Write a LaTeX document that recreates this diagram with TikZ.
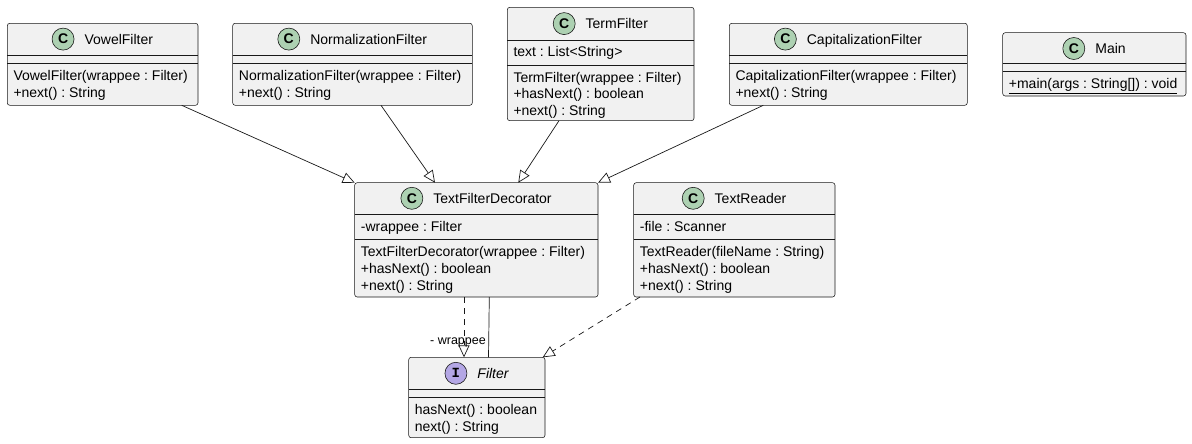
\documentclass[tikz,border=0pt]{standalone}
\usepackage{fontspec}
\setmainfont{Liberation Sans}
\newfontfamily\monofam{Liberation Mono}
\usetikzlibrary{arrows.meta,calc}
\definecolor{boxfill}{HTML}{F1F1F1}
\definecolor{boxline}{HTML}{181818}
\definecolor{cgreen}{HTML}{ADD1B2}
\definecolor{ipurple}{HTML}{B4A7E5}
\tikzset{
  x=1pt, y=-1pt,
  classbox/.style={draw=boxline, fill=boxfill, rounded corners=2.5pt, line width=0.55pt, anchor=north west, inner sep=0pt, outer sep=0pt},
  sepline/.style={draw=boxline, line width=0.55pt},
  mem/.style={anchor=base west, inner sep=0pt, font=\fontsize{14}{16}\selectfont, text=black},
  cname/.style={anchor=base, inner sep=0pt, font=\fontsize{14}{16}\selectfont, text=black},
  cicon/.style={circle, draw=boxline, fill=cgreen, minimum size=22pt, inner sep=0pt, line width=0.6pt, font=\fontsize{14}{14}\selectfont\bfseries},
  iicon/.style={cicon, fill=ipurple, font=\fontsize{14}{14}\selectfont\monofam\bfseries},
  ext/.style={draw=boxline, line width=0.7pt, -{Triangle[open, length=12pt, width=11pt]}},
  impl/.style={ext, dash pattern=on 6pt off 5pt},
  assoc/.style={draw=boxline, line width=0.7pt},
  lbl/.style={inner sep=0pt, font=\fontsize{12.5}{14}\selectfont, text=black}
}
\begin{document}
\frenchspacing
\begin{tikzpicture}
\useasboundingbox (0,0) rectangle (1192,444);

% VowelFilter
\node[classbox, minimum width=190.7pt, minimum height=82pt] (vf) at (7.3,23.3) {};
\draw[sepline] (7.3,55) -- (198,55);
\draw[sepline] (7.3,63.3) -- (198,63.3);
\node[cname] (vfn) at ($(vf.north)+(16.15,20.8)$) {VowelFilter};
\node[cicon] (vfc) at ($(vfn.base west)+(-21.3,-5)$) {C};
\node[mem] (vf1) at (13.3,81) {VowelFilter(wrappee : Filter)};
\node[mem] (vf2) at (13.3,97.7) {+next() : String};

% NormalizationFilter
\node[classbox, minimum width=239.6pt, minimum height=82pt] (nf) at (232.7,23.3) {};
\draw[sepline] (232.7,55) -- (472.3,55);
\draw[sepline] (232.7,63.3) -- (472.3,63.3);
\node[cname] (nfn) at ($(nf.north)+(16.15,20.8)$) {NormalizationFilter};
\node[cicon] (nfc) at ($(nfn.base west)+(-21.3,-5)$) {C};
\node[mem] (nf1) at (238.7,81) {NormalizationFilter(wrappee : Filter)};
\node[mem] (nf2) at (238.7,97.7) {+next() : String};

% TermFilter
\node[classbox, minimum width=186.7pt, minimum height=113.4pt] (tf) at (507.3,7.3) {};
\draw[sepline] (507.3,40) -- (694,40);
\draw[sepline] (507.3,65) -- (694,65);
\node[cname] (tfn) at ($(tf.north)+(16.15,21.3)$) {TermFilter};
\node[cicon] (tfc) at ($(tfn.base west)+(-21.3,-5)$) {C};
\node[mem] (tfa) at (513.3,56.7) {text : List<String>};
\node[mem] (tf1) at (513.3,82) {TermFilter(wrappee : Filter)};
\node[mem] (tf2) at (513.3,98.5) {+hasNext() : boolean};
\node[mem] (tf3) at (513.3,115) {+next() : String};

% CapitalizationFilter
\node[classbox, minimum width=238pt, minimum height=82pt] (cf) at (729.3,23.3) {};
\draw[sepline] (729.3,55) -- (967.3,55);
\draw[sepline] (729.3,63.3) -- (967.3,63.3);
\node[cname] (cfn) at ($(cf.north)+(16.15,20.8)$) {CapitalizationFilter};
\node[cicon] (cfc) at ($(cfn.base west)+(-21.3,-5)$) {C};
\node[mem] (cf1) at (735.3,81) {CapitalizationFilter(wrappee : Filter)};
\node[mem] (cf2) at (735.3,97.7) {+next() : String};

% Main
\node[classbox, minimum width=183.3pt, minimum height=63.3pt] (mn) at (1002.7,32.7) {};
\draw[sepline] (1002.7,63.3) -- (1186,63.3);
\draw[sepline] (1002.7,71.7) -- (1186,71.7);
\node[cname] (mnn) at ($(mn.north)+(16.15,20.8)$) {Main};
\node[cicon] (mnc) at ($(mnn.base west)+(-21.3,-5)$) {C};
\node[mem] (mn1) at (1008.7,88.5) {\underline{+main(args : String[]) : void}};

% TextFilterDecorator
\node[classbox, minimum width=243.3pt, minimum height=114.3pt] (tfd) at (354.7,182.7) {};
\draw[sepline] (354.7,214) -- (598,214);
\draw[sepline] (354.7,239.3) -- (598,239.3);
\node[cname] (tfdn) at ($(tfd.north)+(16.15,20.6)$) {TextFilterDecorator};
\node[cicon] (tfdc) at ($(tfdn.base west)+(-21.3,-5)$) {C};
\node[mem] (tfda) at (360.7,231) {-wrappee : Filter};
\node[mem] (tfd1) at (360.7,256) {TextFilterDecorator(wrappee : Filter)};
\node[mem] (tfd2) at (360.7,273) {+hasNext() : boolean};
\node[mem] (tfd3) at (360.7,290) {+next() : String};

% TextReader
\node[classbox, minimum width=201.3pt, minimum height=114.3pt] (tr) at (633.7,182.7) {};
\draw[sepline] (633.7,214) -- (835,214);
\draw[sepline] (633.7,239.3) -- (835,239.3);
\node[cname] (trn) at ($(tr.north)+(16.15,20.6)$) {TextReader};
\node[cicon] (trc) at ($(trn.base west)+(-21.3,-5)$) {C};
\node[mem] (tra) at (639.7,231) {-file : Scanner};
\node[mem] (tr1) at (639.7,256) {TextReader(fileName : String)};
\node[mem] (tr2) at (639.7,273) {+hasNext() : boolean};
\node[mem] (tr3) at (639.7,290) {+next() : String};

% Filter
\node[classbox, minimum width=136.3pt, minimum height=80.4pt] (fi) at (408.7,357.3) {};
\draw[sepline] (408.7,389.3) -- (545,389.3);
\draw[sepline] (408.7,397.7) -- (545,397.7);
\node[cname] (fin) at ($(fi.north)+(16.15,21)$) {\itshape Filter};
\node[iicon] (fic) at ($(fin.base west)+(-21.3,-5)$) {I};
\node[mem] (fi1) at (414.7,414) {hasNext() : boolean};
\node[mem] (fi2) at (414.7,431) {next() : String};

% connectors
\draw[ext] ([xshift=174.4pt]vf.south west) -- (tfd.north west);
\draw[ext] ([xshift=148.3pt]nf.south west) -- ([xshift=80.3pt]tfd.north west);
\draw[ext] ([xshift=51.7pt]tf.south west) -- ([xshift=163.6pt]tfd.north west);
\draw[ext] ([xshift=34pt]cf.south west) -- (tfd.north east);
\draw[impl] ([xshift=109.3pt]tfd.south west) -- ([xshift=55.3pt]fi.north west);
\draw[assoc] ([xshift=134.6pt]tfd.south west) -- ([xshift=79.8pt]fi.north west);
\draw[impl] ([xshift=6.3pt]tr.south west) -- ([xshift=-2.3pt]fi.north east);
\node[lbl] (wlbl) at (458,342) {- wrappee};
\end{tikzpicture}
\end{document}
